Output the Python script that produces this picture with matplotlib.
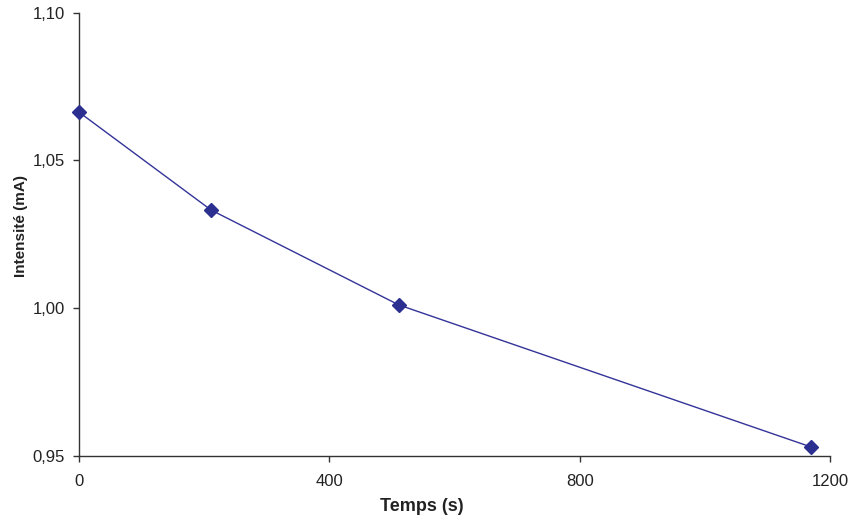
import matplotlib
matplotlib.use("Agg")
import matplotlib.pyplot as plt
from matplotlib.ticker import FuncFormatter

plt.rcParams['font.family'] = ['Liberation Sans', 'DejaVu Sans']

# Data
temps = [0, 211, 511, 1169]
intensite = [1.0663, 1.0332, 1.0011, 0.9531]

x_ticks = [0, 400, 800, 1200]
y_ticks = [0.95, 1.00, 1.05, 1.10]

fig = plt.figure(figsize=(8.51, 5.21), dpi=100)
ax = fig.add_axes([0.0928, 0.1248, 0.8825, 0.8512])

ax.plot(temps, intensite, color='#333399', linewidth=1, marker='D',
        markersize=7, markerfacecolor='#2B2F8F', markeredgecolor='#2B2F8F',
        clip_on=False, zorder=3)

ax.set_xlim(0, 1200)
ax.set_ylim(0.95, 1.10)
ax.set_xticks(x_ticks)
ax.set_yticks(y_ticks)
ax.yaxis.set_major_formatter(FuncFormatter(lambda v, p: f"{v:.2f}".replace('.', ',')))

for s in ['top', 'right']:
    ax.spines[s].set_visible(False)
for s in ['left', 'bottom']:
    ax.spines[s].set_color('#333333')
    ax.spines[s].set_linewidth(1)

ax.tick_params(axis='both', direction='out', length=4, width=1, color='#333333',
               labelsize=12, labelcolor='#222222')
ax.tick_params(axis='x', pad=9)
ax.tick_params(axis='y', pad=6)

ax.set_xlabel("Temps (s)", fontsize=13, fontweight='bold', color='#222222')
ax.set_ylabel("Intensité (mA)", fontsize=11, fontweight='bold', color='#222222')
ax.xaxis.set_label_coords(0.457, -0.115)
ax.xaxis.label.set_va('center')
ax.yaxis.set_label_coords(-0.077, 0.519)
ax.yaxis.label.set_va('center')

fig.savefig("out.png", dpi=100)
